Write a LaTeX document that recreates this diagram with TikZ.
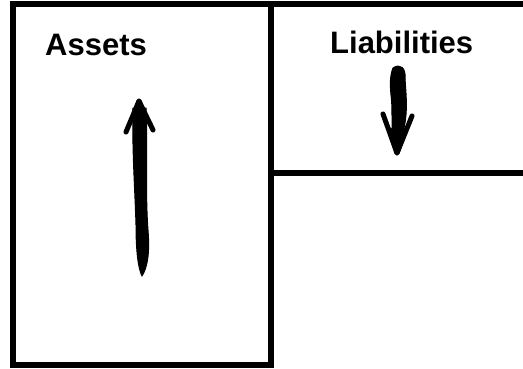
\documentclass[tikz,border=0pt]{standalone}
\usepackage{fontspec}
\setmainfont{Liberation Sans}
\begin{document}
\begin{tikzpicture}[x=1pt,y=-1pt,
  frame/.style={line width=6pt,black},
  label/.style={font=\fontsize{31}{36}\selectfont\bfseries,inner sep=0pt,anchor=base west},
  inkhead/.style={line width=5pt,line cap=round,line join=round,black},
  inkshaft/.style={fill=black,draw=black,line width=1pt,line join=round}]
\useasboundingbox (0,0) rectangle (523,368);
% frames
\draw[frame] (13,4) rectangle (271,365);
\draw[frame] (271,4) -- (526,4);
\draw[frame] (271,173) -- (526,173);
% labels
\node[label] (assets) at (45,55) {Assets};
\node[label] (liab) at (330,53) {Liabilities};
% up arrow (assets)
\coordinate (upTip) at (139,101);
\fill[inkshaft] (133,108) -- (146,108) .. controls (148,150) and (145,190) .. (148,230)
  .. controls (150,255) and (147,268) .. (142,276) .. controls (138,268) and (136,250) .. (136,225)
  .. controls (135,190) and (132,150) .. cycle;
\draw[inkhead] (126,132) -- (upTip) -- (153,130);
\draw[inkhead] (134,118) -- (upTip) -- (145,118);
% down arrow (liabilities)
\coordinate (dnTip) at (397,153);
\fill[inkshaft] (393,68) .. controls (400,63) and (406,68) .. (405,78)
  .. controls (406,95) and (408,110) .. (404,128) -- (402,145) -- (393,145)
  .. controls (391,125) and (393,110) .. (391,95) .. controls (390,85) and (390,75) .. cycle;
\draw[inkhead] (383,114) -- (dnTip) -- (412,116);
\draw[inkhead] (390,130) -- (dnTip) -- (405,130);
\end{tikzpicture}
\end{document}
